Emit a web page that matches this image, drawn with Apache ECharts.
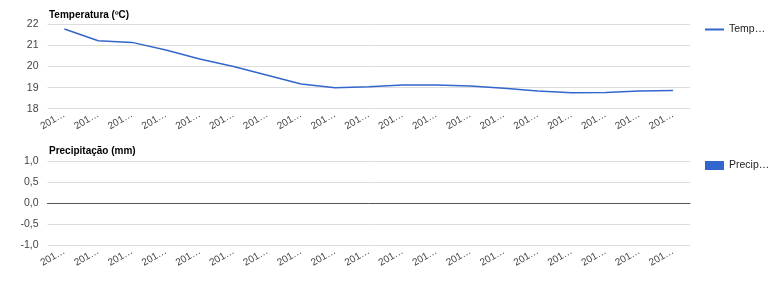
<!DOCTYPE html>
<html>
<head>
<meta charset="utf-8">
<script src="https://cdn.jsdelivr.net/npm/echarts@6/dist/echarts.min.js"></script>
<style>html,body{margin:0;padding:0;background:#fff}#c{width:768px;height:293px}</style>
</head>
<body>
<div id="c"></div>
<script>
const categories = ['201…','201…','201…','201…','201…','201…','201…','201…','201…','201…','201…','201…','201…','201…','201…','201…','201…','201…','201…'];
const temperatura = [21.79,21.23,21.15,20.79,20.36,20.0,19.59,19.17,19.0,19.04,19.13,19.12,19.08,18.97,18.84,18.76,18.77,18.84,18.86];
const precipitacao = [0,0,0,0,0,0,0,0,0,0,0,0,0,0,0,0,0,0,0];
const tempTicks = [18,22,1];
const precTicks = [-1,1,0.5];

const FONT = 'Arial, "Liberation Sans", sans-serif';
const chart = echarts.init(document.getElementById('c'), null, {renderer:'canvas'});
const xAxisBase = (gi) => ({
  type:'category', gridIndex:gi, data:categories, boundaryGap:true,
  axisLine:{show:false}, axisTick:{show:false}, splitLine:{show:false},
  axisLabel:{rotate:30, interval:0, margin:5, fontSize:10, color:'#444', fontFamily:FONT}
});
chart.setOption({
  animation:false,
  textStyle:{fontFamily:FONT},
  title:[
    {text:'Temperatura (ºC)', left:44, top:5, textStyle:{fontSize:10, fontWeight:'bold', color:'#000', fontFamily:FONT}},
    {text:'Precipitação (mm)', left:44, top:141, textStyle:{fontSize:10, fontWeight:'bold', color:'#000', fontFamily:FONT}}
  ],
  legend:[
    {data:[{name:'Temperatura', icon:'rect'}], left:700, top:19, itemWidth:19, itemHeight:2, itemGap:4,
     textStyle:{fontSize:10.5, color:'#222', width:40, overflow:'truncate', ellipsis:'…', fontFamily:FONT}},
    {data:[{name:'Precipitação', icon:'rect'}], left:700, top:155, itemWidth:19, itemHeight:9, itemGap:4,
     textStyle:{fontSize:10.5, color:'#222', width:43, overflow:'truncate', ellipsis:'…', fontFamily:FONT}}
  ],
  grid:[
    {left:47.5, right:78, top:24.5, height:84.2},
    {left:47.5, right:78, top:161.3, height:84}
  ],
  xAxis:[
    xAxisBase(0),
    Object.assign(xAxisBase(1), {axisLine:{show:true, onZero:true, lineStyle:{color:'#555', width:1}}})
  ],
  yAxis:[
    {type:'value', gridIndex:0, min:tempTicks[0], max:tempTicks[1], interval:tempTicks[2],
     axisLine:{show:false}, axisTick:{show:false},
     splitLine:{lineStyle:{color:'#ddd', width:1}},
     axisLabel:{fontSize:10.5, color:'#444', margin:9, fontFamily:FONT}},
    {type:'value', gridIndex:1, min:precTicks[0], max:precTicks[1], interval:precTicks[2],
     axisLine:{show:false}, axisTick:{show:false},
     splitLine:{lineStyle:{color:'#ddd', width:1}},
     axisLabel:{fontSize:10.5, color:'#444', margin:9, fontFamily:FONT,
       formatter:(v)=>v.toFixed(1).replace('.',',')}}
  ],
  series:[
    {name:'Temperatura', type:'line', xAxisIndex:0, yAxisIndex:0, data:temperatura,
     showSymbol:false, symbol:'none', color:'#3366cc', lineStyle:{color:'#3366cc', width:1.5}},
    {name:'Precipitação', type:'bar', xAxisIndex:1, yAxisIndex:1, data:precipitacao,
     color:'#3366cc', itemStyle:{color:'#3366cc'}}
  ]
});
</script>
</body>
</html>
